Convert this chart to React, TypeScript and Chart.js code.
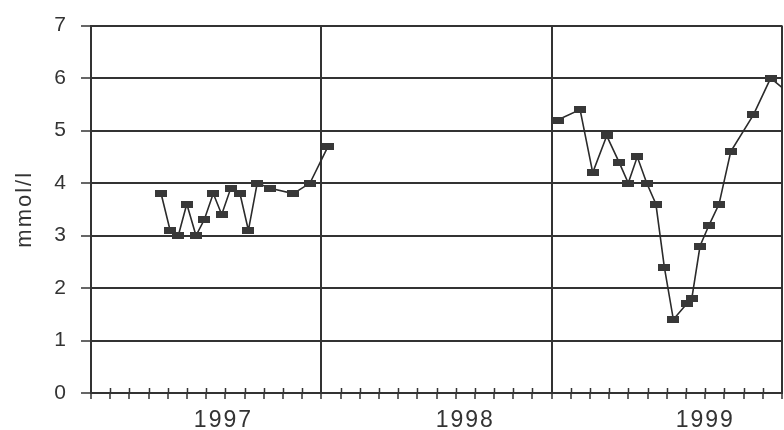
import React, { useEffect, useRef } from 'react';
import { Chart, registerables } from 'chart.js';

Chart.register(...registerables);

// Months elapsed since 1 Jan 1997 (x) and concentration in mmol/l (y)
const seg1997Months = [3.65, 4.12, 4.55, 4.99, 5.47, 5.9, 6.37, 6.81, 7.28, 7.76, 8.2, 8.66, 9.33, 10.54, 11.41, 12.35];
const seg1997Values = [3.8, 3.1, 3.0, 3.6, 3.0, 3.3, 3.8, 3.4, 3.9, 3.8, 3.1, 4.0, 3.9, 3.8, 4.0, 4.7];

const seg1999Months = [24.31, 25.48, 26.14, 26.87, 27.51, 27.99, 28.46, 28.95, 29.43, 29.87, 30.34, 31.04, 31.3, 31.73, 32.2, 32.72, 33.33, 34.51, 35.41, 36.4];
const seg1999Values = [5.2, 5.4, 4.2, 4.9, 4.4, 4.0, 4.5, 4.0, 3.6, 2.4, 1.4, 1.7, 1.8, 2.8, 3.2, 3.6, 4.6, 5.3, 6.0, 5.7];

const yMin = 0;
const yMax = 7;
const xMinMonth = 0;
const xMaxMonth = 36;
const yearLabels = ['1997', '1998', '1999'];
const yearLabelMonths = [6.9, 19.5, 32.0];
const yAxisTitle = 'mmol/l';

const INK = '#333333';
const FONT = '"Liberation Sans", Arial, Helvetica, sans-serif';

export default function App() {
  const ref = useRef<HTMLCanvasElement | null>(null);

  useEffect(() => {
    if (!ref.current) return;

    const marker = document.createElement('canvas');
    marker.width = 12;
    marker.height = 7;
    const mctx = marker.getContext('2d') as CanvasRenderingContext2D;
    mctx.fillStyle = '#383838';
    mctx.fillRect(0, 0, 12, 7);

    const toPts = (xs: number[], ys: number[]) => xs.map((x, i) => ({ x, y: ys[i] }));

    const dsStyle: any = {
      borderColor: '#2b2b2b',
      borderWidth: 1.6,
      backgroundColor: '#383838',
      pointStyle: marker,
      pointRadius: 6,
      pointHoverRadius: 6,
      tension: 0,
      showLine: true,
      fill: false,
    };

    const axisPlugin = {
      id: 'axisDecor',
      beforeDraw(chart: any) {
        chart.ctx.letterSpacing = '2px';
      },
      afterDraw(chart: any) {
        const xs = chart.scales.x;
        const y0 = chart.chartArea.bottom;
        const ctx = chart.ctx;
        ctx.save();
        ctx.strokeStyle = INK;
        ctx.lineWidth = 1.5;
        xs.ticks.forEach((t: any) => {
          if (t.value % 12 === 0) return;
          const px = Math.round(xs.getPixelForValue(t.value)) + 0.5;
          ctx.beginPath();
          ctx.moveTo(px, y0 - 5);
          ctx.lineTo(px, y0);
          ctx.stroke();
        });
        ctx.restore();
      },
    };

    const chart = new Chart(ref.current, {
      type: 'scatter',
      data: {
        datasets: [
          { ...dsStyle, label: '1997', data: toPts(seg1997Months, seg1997Values) },
          { ...dsStyle, label: '1999', data: toPts(seg1999Months, seg1999Values) },
        ],
      },
      options: {
        animation: false,
        responsive: false,
        devicePixelRatio: 1,
        layout: { autoPadding: false, padding: { top: 24, right: 2, left: 0, bottom: 0 } },
        plugins: { legend: { display: false }, tooltip: { enabled: false } },
        scales: {
          x: {
            type: 'linear',
            position: 'bottom',
            weight: 0,
            min: xMinMonth,
            max: xMaxMonth,
            ticks: { stepSize: 1, display: false, autoSkip: false },
            grid: {
              color: INK,
              lineWidth: (c: any) => (c.tick && c.tick.value % 12 === 0 ? 2 : 0),
              tickColor: INK,
              tickWidth: 1.5,
              tickLength: 6,
              drawTicks: true,
            },
            border: { color: INK, width: 2 },
            afterFit: (s: any) => {
              s.height = 7;
            },
          },
          xYear: {
            type: 'linear',
            position: 'bottom',
            weight: 1,
            min: xMinMonth,
            max: xMaxMonth,
            afterBuildTicks: (s: any) => {
              s.ticks = yearLabelMonths.map((v) => ({ value: v }));
            },
            ticks: {
              autoSkip: false,
              maxRotation: 0,
              padding: 7,
              color: INK,
              font: { family: FONT, size: 23 },
              callback: (_v: any, i: number) => yearLabels[i],
            },
            grid: { display: false, drawTicks: false },
            border: { display: false },
            afterFit: (s: any) => {
              s.height = 30;
            },
          },
          y: {
            type: 'linear',
            min: yMin,
            max: yMax,
            ticks: { stepSize: 1, padding: 13, color: INK, font: { family: FONT, size: 21 } },
            grid: { color: INK, lineWidth: 2, tickLength: 10, tickWidth: 1.5, tickColor: INK },
            border: { color: INK, width: 2 },
            title: {
              display: true,
              text: yAxisTitle,
              color: INK,
              font: { family: FONT, size: 22 },
              padding: { top: 12, bottom: 0 },
            },
            afterFit: (s: any) => {
              s.width = 91;
            },
          },
        },
      } as any,
      plugins: [axisPlugin],
    });

    return () => chart.destroy();
  }, []);

  return (
    <div style={{ position: 'absolute', left: 0, top: 0, width: 784, height: 430, background: '#fff' }}>
      <canvas ref={ref} width={784} height={430} />
    </div>
  );
}
